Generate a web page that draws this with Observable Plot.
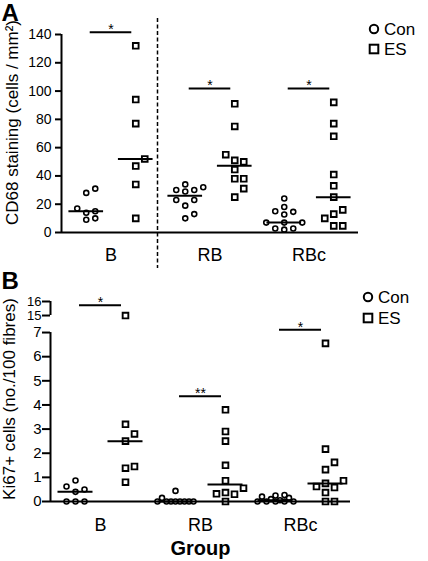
<!DOCTYPE html>
<html><head><meta charset="utf-8">
<script src="https://cdn.jsdelivr.net/npm/d3@7"></script>
<script src="https://cdn.jsdelivr.net/npm/@observablehq/plot@0.6"></script>
<style>
html,body{margin:0;padding:0;background:#fff;}
#wrap{position:relative;width:428px;height:561px;overflow:hidden;font-family:"Liberation Sans",Arial,sans-serif;color:#000;}
#wrap > *{position:absolute;left:0;}
</style></head><body><div id="wrap"></div>
<script>
// ---------- data ----------
const groups = ["B", "RB", "RBc"];
const treatments = ["Con", "ES"];

// Panel A: CD68 staining (cells / mm²)
const cd68ConB   = [31, 28, 17, 14, 15, 9, 10];
const cd68ESB    = [132, 94, 77, 52, 47, 34, 10];
const cd68ConRB  = [34, 32, 30, 30, 29, 23, 23, 19, 13, 10];
const cd68ESRB   = [91, 75, 55, 51, 50, 44.5, 38, 38, 31, 25];
const cd68ConRBc = [24, 18, 14.6, 15, 12.7, 7, 7, 7, 2.8, 2, 2.8];
const cd68ESRBc  = [92, 77, 68, 41, 33, 25, 16, 10, 13, 4.7, 4.7];
const cd68Ticks  = [0, 20, 40, 60, 80, 100, 120, 140];
const cd68SigY   = [141.6, 101.8, 101.8];
const cd68SigLabel = ["*", "*", "*"];

// Panel B: Ki67+ cells (no./100 fibres)
const kiConB   = [0, 0, 0, 0.4, 0.5, 0.62, 0.87];
const kiESB    = [15, 3.2, 2.8, 2.5, 1.45, 1.38, 0.8];
const kiConRB  = [0.44, 0.15, 0, 0, 0, 0, 0, 0, 0, 0];
const kiESRB   = [3.8, 2.9, 2.5, 1.5, 0.86, 0.55, 0.37, 0.32, 0.3, 0];
const kiConRBc = [0.27, 0.25, 0.2, 0.15, 0.1, 0.05, 0, 0, 0, 0, 0];
const kiESRBc  = [6.55, 2.17, 1.62, 1.32, 0.86, 0.75, 0.62, 0.58, 0.37, 0, 0];
const kiLowerTicks = [0, 1, 2, 3, 4, 5, 6, 7];
const kiUpperTicks = [15, 16];
const kiSigY   = [15.74, 4.36, 7.12];
const kiSigLabel = ["*", "**", "*"];

// ---------- helpers ----------
const FONT = '"Liberation Sans", Arial, sans-serif';
// broken axis: 0..7 linear, 15..16 compressed above a gap
const brk = v => v <= 7.5 ? v : 7.705 + (v - 15) * 0.581;

// simple column scatter (dodge) in pixel space
function dodge(pys, D) {
  const idx = d3.range(pys.length).sort((a, b) => pys[a] - pys[b]);
  const placed = [], offs = new Array(pys.length);
  const primary = [0, 9, -9, 18, -18];
  const all = [0, 4.5, -4.5, 9, -9, 13.5, -13.5, 18, -18];
  for (const i of idx) {
    const py = pys[i];
    const md = o => placed.length ? d3.min(placed, p => Math.hypot(p.x - o, p.y - py)) : Infinity;
    let o = primary.find(c => md(c) >= D);
    if (o === undefined) o = d3.greatest(all, md);
    offs[i] = o; placed.push({x: o, y: py});
  }
  return offs;
}

function makeRows(conSets, esSets, tf, pxPerY, pxPerX) {
  const rows = [], meds = [];
  groups.forEach((g, gi) => {
    [[conSets[gi], "Con", -0.25, 7], [esSets[gi], "ES", 0.25, 8.5]].forEach(([vals, t, off, D]) => {
      const offs = dodge(vals.map(v => tf(v) * pxPerY), D);
      vals.forEach((v, k) => rows.push({group: g, treat: t, value: v, xp: gi + off + offs[k] / pxPerX, yp: tf(v)}));
      const m = d3.median(vals);
      meds.push({group: g, treat: t, x1: gi + off - 0.175, x2: gi + off + 0.175, y: tf(m)});
    });
  });
  return {rows, meds};
}

const wrap = document.getElementById("wrap");

// ---------- Panel A ----------
const dA = makeRows([cd68ConB, cd68ConRB, cd68ConRBc], [cd68ESB, cd68ESRB, cd68ESRBc], v => v, 198 / 140, 99);
const sigA = groups.map((g, gi) => ({gi, y: cd68SigY[gi], label: cd68SigLabel[gi]}));

const plotA = Plot.plot({
  width: 428, height: 270,
  marginLeft: 61, marginRight: 70, marginTop: 34, marginBottom: 38,
  x: {domain: [-0.5, 2.5]},
  y: {domain: [0, 140]},
  style: {fontFamily: FONT, background: "white", color: "black", overflow: "visible"},
  marks: [
    Plot.ruleX([0.5], {dx: -3, stroke: "black", strokeWidth: 1.5, strokeDasharray: "4,2.5", insetTop: -16, insetBottom: -36}),
    Plot.ruleY([0], {stroke: "black", strokeWidth: 2}),
    Plot.ruleX([-0.5], {y1: 0, y2: 140, stroke: "black", strokeWidth: 2}),
    Plot.axisY({ticks: cd68Ticks, tickSize: 6, tickPadding: 4, fontSize: 14, strokeWidth: 2, label: null}),
    Plot.axisX({ticks: [0, 1, 2], tickFormat: i => groups[i], tickSize: 0, tickPadding: 16, fontSize: 18, label: null}),
    Plot.ruleY(dA.meds, {x1: "x1", x2: "x2", y: "y", stroke: "black", strokeWidth: 2}),
    Plot.ruleY(sigA, {x1: d => d.gi - 0.21, x2: d => d.gi + 0.21, y: "y", stroke: "black", strokeWidth: 2}),
    Plot.text(sigA, {x: "gi", y: "y", text: "label", fontSize: 14, lineAnchor: "top", dy: -8}),
    Plot.dot(dA.rows.filter(d => d.treat === "Con"), {x: "xp", y: "yp", r: 2.5, stroke: "black", strokeWidth: 1.6, fill: "none"}),
    Plot.dot(dA.rows.filter(d => d.treat === "ES"), {x: "xp", y: "yp", symbol: "square", r: 3.2, stroke: "black", strokeWidth: 1.9, fill: "none"}),
    Plot.text(["CD68 staining (cells / mm²)"], {text: d => d, frameAnchor: "left", textAnchor: "middle", rotate: -90, dx: -48.5, dy: -11, fontSize: 17, lineAnchor: "middle"}),
    Plot.text(["A"], {text: d => d, frameAnchor: "top-left", dx: -60, dy: -31, textAnchor: "start", lineAnchor: "top", fontSize: 24, fontWeight: "bold"})
  ]
});
plotA.style.top = "0px";
wrap.appendChild(plotA);

// ---------- Panel B ----------
const yMaxB = brk(16);
const dB = makeRows([kiConB, kiConRB, kiConRBc], [kiESB, kiESRB, kiESRBc], brk, 200 / yMaxB, 100);
const sigB = groups.map((g, gi) => ({gi, y: brk(kiSigY[gi]), label: kiSigLabel[gi]}));

const plotB = Plot.plot({
  width: 428, height: 291,
  marginLeft: 50, marginRight: 78, marginTop: 31, marginBottom: 60,
  x: {domain: [-0.5, 2.5]},
  y: {domain: [0, yMaxB]},
  style: {fontFamily: FONT, background: "white", color: "black", overflow: "visible"},
  marks: [
    Plot.ruleY([0], {stroke: "black", strokeWidth: 2}),
    Plot.ruleX([-0.5], {y1: 0, y2: 7, stroke: "black", strokeWidth: 2}),
    Plot.ruleX([-0.5], {y1: brk(15), y2: brk(16), stroke: "black", strokeWidth: 2}),
    Plot.axisY({ticks: kiLowerTicks, tickSize: 8, tickPadding: 1, fontSize: 15, strokeWidth: 2, label: null}),
    Plot.axisY({ticks: kiUpperTicks.map(brk), tickFormat: t => kiUpperTicks.find(u => Math.abs(brk(u) - t) < 1e-6), tickSize: 8, tickPadding: 1, fontSize: 13, strokeWidth: 2, label: null}),
    Plot.axisX({ticks: [0, 1, 2], tickFormat: i => groups[i], tickSize: 0, tickPadding: 17, fontSize: 18, label: null}),
    Plot.ruleY(dB.meds, {x1: "x1", x2: "x2", y: "y", stroke: "black", strokeWidth: 2}),
    Plot.ruleY(sigB, {x1: d => d.gi - 0.21, x2: d => d.gi + 0.21, y: "y", stroke: "black", strokeWidth: 2}),
    Plot.text(sigB, {x: "gi", y: "y", text: "label", fontSize: 14, lineAnchor: "top", dy: -8}),
    Plot.dot(dB.rows.filter(d => d.treat === "Con"), {x: "xp", y: "yp", r: 2.5, stroke: "black", strokeWidth: 1.6, fill: "none"}),
    Plot.dot(dB.rows.filter(d => d.treat === "ES"), {x: "xp", y: "yp", symbol: "square", r: 3.2, stroke: "black", strokeWidth: 1.9, fill: "none"}),
    Plot.text(["Ki67+ cells (no./100 fibres)"], {text: d => d, frameAnchor: "left", textAnchor: "middle", rotate: -90, dx: -40.5, dy: -2.5, fontSize: 17, lineAnchor: "middle"}),
    Plot.text(["Group"], {text: d => d, frameAnchor: "bottom", textAnchor: "middle", dy: 39, lineAnchor: "top", fontSize: 20, fontWeight: "bold"}),
    Plot.text(["B"], {text: d => d, frameAnchor: "top-left", dx: -49, dy: -30, textAnchor: "start", lineAnchor: "top", fontSize: 24, fontWeight: "bold"})
  ]
});
plotB.style.top = "270px";
wrap.appendChild(plotB);

// ---------- Legends ----------
function legend(cx, cy, gap) {
  const svg = d3.create("svg").attr("width", 428).attr("height", 561)
    .style("position", "absolute").style("left", "0px").style("top", "0px").style("pointer-events", "none");
  const g = svg.append("g").attr("font-family", FONT).attr("font-size", 17);
  treatments.forEach((t, i) => {
    const y = cy + i * gap;
    if (t === "Con") g.append("circle").attr("cx", cx).attr("cy", y).attr("r", 4.2).attr("fill", "none").attr("stroke", "black").attr("stroke-width", 2);
    else g.append("rect").attr("x", cx - 4.3).attr("y", y - 4.3).attr("width", 8.6).attr("height", 8.6).attr("fill", "none").attr("stroke", "black").attr("stroke-width", 2);
    g.append("text").attr("x", cx + 10).attr("y", y).attr("dy", "0.35em").text(t);
  });
  return svg.node();
}
wrap.appendChild(legend(374, 29, 20));
wrap.appendChild(legend(368, 297, 21));
</script></body></html>
